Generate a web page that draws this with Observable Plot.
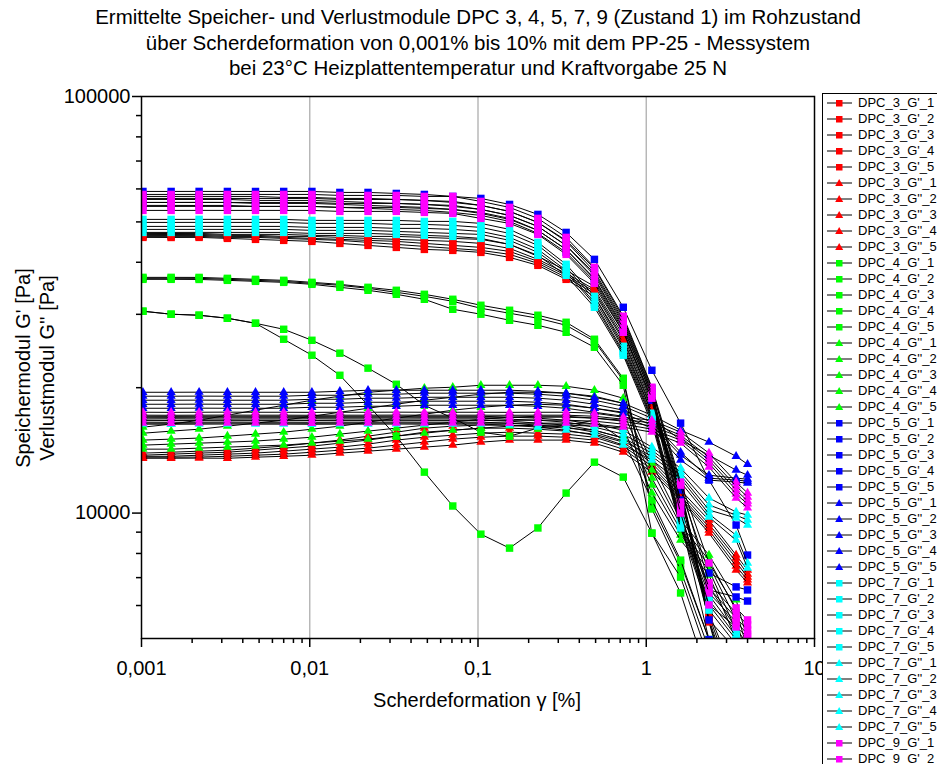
<!DOCTYPE html>
<html><head><meta charset="utf-8">
<script src="https://cdn.jsdelivr.net/npm/d3@7"></script>
<script src="https://cdn.jsdelivr.net/npm/@observablehq/plot@0.6"></script>
<style>
body{margin:0;width:937px;height:764px;overflow:hidden;position:relative;background:#fff;font-family:"Liberation Sans",Arial,sans-serif;color:#000;}
#title{position:absolute;left:0;top:4px;width:956px;text-align:center;font-size:20.5px;line-height:25.5px;z-index:2;}
#chart{position:absolute;left:0;top:80px;z-index:1;}
.ylab{position:absolute;width:300px;text-align:center;font-size:20px;line-height:22px;transform:rotate(-90deg);white-space:nowrap;z-index:2;}
#xlab{position:absolute;left:327px;width:300px;top:689px;text-align:center;font-size:20px;line-height:22px;white-space:nowrap;z-index:2;}
#legend{position:absolute;left:822px;top:93px;width:160px;border:1px solid #000;background:#fff;padding-top:1px;z-index:3;}
.row{position:relative;height:16px;}
.row svg{position:absolute;left:0;top:0;}
.row span{position:absolute;left:35px;top:0;font-size:13px;line-height:16px;white-space:nowrap;}
</style></head><body>
<div id="title">Ermittelte Speicher- und Verlustmodule DPC 3, 4, 5, 7, 9 (Zustand 1) im Rohzustand<br>über Scherdeformation von 0,001% bis 10% mit dem PP-25 - Messystem<br>bei 23°C Heizplattentemperatur und Kraftvorgabe 25 N</div>
<div id="chart"></div>
<div class="ylab" style="left:-127px;top:357px;">Speichermodul G' [Pa]</div>
<div class="ylab" style="left:-103px;top:357px;">Verlustmodul G'' [Pa]</div>
<div id="xlab">Scherdeformation γ [%]</div>
<div id="legend"></div>
<script>
// strain values (%)
const strain = [0.00102,0.0015,0.0022,0.00324,0.00476,0.007,0.0103,0.0151,0.0222,0.0327,0.048,0.0708,0.104,0.154,0.227,0.334,0.492,0.73,1.08,1.6,2.36,3.42,4.0];

// DPC 3 storage modulus G'
const dpc3_Gp_1 = [46920,46900,46920,46660,46680,46660,46410,46400,46150,46150,45900,45650,45400,44160,41330,38250,35020,27170,18450,11480,5750,3980,3560];
const dpc3_Gp_2 = [46660,46650,46660,46410,46410,46150,46150,45900,45650,45400,45150,44900,44400,43190,40650,37620,34440,26720,18150,11360,5660,3770,3370];
const dpc3_Gp_3 = [46410,46400,46410,46150,46150,45900,45650,45400,45150,44900,44400,43910,43430,42480,40210,37210,34070,26280,17850,11300,5560,3560,3190];
const dpc3_Gp_4 = [46150,46160,46150,45900,45900,45650,45400,45150,44650,44160,43670,43190,42720,41790,39770,36800,33690,25990,17660,11230,5510,3370,3010];
const dpc3_Gp_5 = [45900,45880,45900,45650,45400,45150,44900,44400,43910,43430,42950,42720,42250,41100,39330,36400,33140,25560,17370,11170,5480,3190,2850];
// DPC 3 loss modulus G''
const dpc3_Gpp_1 = [13930,14000,14080,14160,14320,14480,14720,14970,15300,15640,15990,16170,16260,16260,16170,15990,15810,15140,13400,11360,9620,7930,7300];
const dpc3_Gpp_2 = [13770,13850,13930,14000,14160,14320,14480,14720,14970,15300,15640,15810,15990,15990,15900,15730,15470,14800,13180,11170,9410,7800,7140];
const dpc3_Gpp_3 = [13690,13690,13770,13850,13930,14080,14240,14400,14640,14970,15210,15380,15550,15640,15550,15470,15210,14480,12960,10990,9260,7630,7020];
const dpc3_Gpp_4 = [13620,13620,13630,13690,13770,13850,14000,14160,14320,14560,14800,15050,15210,15300,15300,15210,14970,14240,12750,10870,9100,7460,6910];
const dpc3_Gpp_5 = [13540,13540,13550,13540,13620,13690,13770,13930,14080,14240,14400,14560,14800,14970,14970,14970,14720,14000,12540,10750,8950,7300,6800];

// DPC 4 storage modulus G'
const dpc4_Gp_1 = [36800,36800,36790,36600,36400,36200,35800,35410,34830,34260,33510,32600,31540,30680,29850,28710,26140,21070,10460,7590,4970,3770,3190];
const dpc4_Gp_2 = [36600,36610,36600,36400,36200,36000,35600,35220,34640,33880,33140,32240,31020,30180,29360,28240,25850,20840,10230,7300,4700,3560,3010];
const dpc4_Gp_3 = [36400,36400,36380,36200,36000,35800,35410,34830,34260,33510,32600,30850,30020,29030,28240,27170,25010,20270,8950,7020,4450,3370,2850];
const dpc4_Gp_4 = [30520,30020,29850,29360,28550,27620,25990,24200,22280,20380,18150,16900,15640,15300,15990,16260,16710,14970,10750,7710,4970,3560,3010];
const dpc4_Gp_5 = [30520,30020,29850,29360,28550,26140,23930,21420,18150,15300,12540,10400,8900,8240,9210,11170,13250,12200,8950,6430,3980,3190,2850];
// DPC 4 loss modulus G''
const dpc4_Gpp_1 = [16080,16350,16710,17180,17660,18150,18660,19080,19500,19720,19940,20050,20270,20270,20270,20160,19720,18870,13180,9620,7930,6190,4970];
const dpc4_Gpp_2 = [15550,15730,15900,16170,16440,16710,17080,17460,17850,18250,18660,18970,19290,19500,19500,19400,19080,18350,12680,9360,7710,5850,4700];
const dpc4_Gpp_3 = [14970,15050,15140,15300,15470,15640,15900,16170,16530,16900,17270,17660,17950,18150,18250,18150,17850,17460,12130,9100,7510,5540,4450];
const dpc4_Gpp_4 = [14560,14640,14720,14800,14890,15050,15210,15470,15730,15990,16260,16530,16800,16990,17080,17080,16900,16710,11670,8850,7300,5240,4200];
const dpc4_Gpp_5 = [14240,14240,14320,14400,14480,14560,14720,14890,15050,15300,15550,15810,15990,16170,16260,16260,16170,15990,11170,8610,7100,4970,3980];

// DPC 5 storage modulus G'
const dpc5_Gp_1 = [59170,59170,59180,59170,59160,59170,59170,58850,58850,58520,58200,57560,56930,55070,52120,47180,40650,31190,22020,16440,12000,9360,7930];
const dpc5_Gp_2 = [57560,57560,57570,57560,57560,57240,57240,56930,56930,56610,56300,55680,54770,52990,49860,45150,38670,29360,19940,11360,7180,6650,6540];
const dpc5_Gp_3 = [56610,56610,56600,56610,56300,56300,56300,55990,55680,55380,55070,54470,53570,51830,48770,43910,37620,28710,19500,10750,6540,6290,6150];
const dpc5_Gp_4 = [55680,55680,55690,55680,55380,55380,55380,55070,54770,54470,54170,53570,52690,50980,47710,42950,36600,28080,19080,10170,5540,4700,4450];
const dpc5_Gp_5 = [54770,54770,54760,54770,54470,54470,54470,54170,53870,53570,53280,52690,51830,50140,46920,42250,36000,27470,18660,9620,4970,3980,3560];
// DPC 5 loss modulus G''
const dpc5_Gpp_1 = [19500,19500,19510,19500,19500,19500,19500,19610,19720,19720,19720,19720,19720,19720,19610,19400,18970,18350,17180,15810,14800,13690,13100];
const dpc5_Gpp_2 = [19080,19080,19090,19080,19080,19080,19180,19180,19290,19290,19400,19400,19400,19400,19290,19080,18660,18050,16900,14970,13770,12680,12330];
const dpc5_Gpp_3 = [18660,18660,18670,18660,18660,18660,18760,18760,18870,18870,18970,18970,18970,18970,18870,18660,18250,17660,16530,14000,12130,12000,11930];
const dpc5_Gpp_4 = [18250,18250,18260,18250,18250,18250,18350,18350,18450,18450,18560,18560,18560,18560,18450,18250,17850,17370,16260,13770,12330,12130,12060];
const dpc5_Gpp_5 = [17850,17850,17860,17850,17850,17850,17950,17950,18050,18050,18150,18150,18150,18150,18050,17850,17460,17080,15990,13400,12000,11870,11800];

// DPC 7 storage modulus G'
const dpc7_Gp_1 = [50700,50700,50710,50700,50700,50700,50420,50420,50420,50420,50140,50140,49590,47970,44650,39550,33140,25140,17370,9620,6650,5290,4840];
const dpc7_Gp_2 = [49860,49860,49870,49860,49860,49860,49590,49590,49590,49310,49310,49040,48500,46920,43910,38900,32600,24870,17080,9510,6360,5190,4570];
const dpc7_Gp_3 = [48770,48770,48780,48770,48770,48770,48500,48500,48500,48240,48240,47970,47440,45900,42950,38250,32060,24460,16900,9410,6190,5060,4330];
const dpc7_Gp_4 = [47970,47970,47980,47970,47970,47970,47710,47710,47710,47440,47180,46920,46660,45150,42250,37830,31710,24200,16710,9310,6020,4970,4100];
const dpc7_Gp_5 = [47180,47180,47190,47180,47180,47180,46920,46920,46920,46660,46410,46150,45650,44160,41560,37210,31190,23930,16440,9210,5850,4840,3870];
// DPC 7 loss modulus G''
const dpc7_Gpp_1 = [17080,17070,17080,17090,17080,17080,17070,17080,17080,17090,17080,17080,17080,16990,16900,16710,16350,15810,14400,12820,10870,10060,9890];
const dpc7_Gpp_2 = [16900,16890,16900,16910,16900,16900,16890,16900,16900,16910,16900,16900,16900,16800,16710,16530,16080,15470,14160,12540,10460,9890,9620];
const dpc7_Gpp_3 = [16710,16700,16710,16720,16710,16710,16700,16710,16710,16720,16710,16710,16710,16620,16440,16260,15810,15140,13930,12330,10170,9730,9360];
const dpc7_Gpp_4 = [16530,16520,16530,16540,16530,16530,16520,16530,16530,16540,16530,16530,16530,16440,16260,16080,15640,14890,13690,12130,9950,8850,7590];
const dpc7_Gpp_5 = [16350,16340,16350,16360,16350,16350,16340,16350,16350,16360,16350,16350,16350,16260,16080,15810,15380,14560,13400,11870,9780,8610,7380];

// DPC 9 storage modulus G'
const dpc9_Gp_1 = [58200,58200,58210,58200,58200,58200,58200,57880,57880,57880,57560,57560,55990,54170,50980,45900,38900,29690,20050,11870,7590,5920,5540];
const dpc9_Gp_2 = [56930,56930,56940,56930,56930,56930,56930,56610,56610,56610,56300,55990,54770,52990,49860,44900,38040,29030,19720,11670,6800,5750,5390];
const dpc9_Gp_3 = [55680,55680,55690,55680,55680,55680,55680,55380,55380,55380,55070,54770,53570,51830,48770,43910,37210,28390,19400,10630,6610,5600,5240];
const dpc9_Gp_4 = [54470,54470,54480,54470,54470,54470,54470,54170,54170,54170,53870,53570,52400,50700,47710,42950,36400,27770,19180,10350,6430,5480,5120];
const dpc9_Gp_5 = [53280,53280,53290,53280,53280,53280,53280,52990,52990,52990,52690,52400,50980,49590,46660,41790,35600,27170,18870,10000,6020,5330,5040];
// DPC 9 loss modulus G''
const dpc9_Gpp_1 = [17460,17450,17460,17470,17460,17460,17450,17460,17460,17470,17460,17460,17460,17450,17460,17460,17370,16990,16710,15640,13930,11870,11170];
const dpc9_Gpp_2 = [17180,17170,17180,17190,17180,17180,17170,17180,17180,17190,17180,17180,17180,17170,17180,17180,17080,16800,16440,15380,13620,11610,10930];
const dpc9_Gpp_3 = [16990,16980,16990,17000,16990,16990,16980,16990,16990,17000,16990,16990,16990,16980,16990,16990,16900,16620,16170,15210,13400,11360,10690];
const dpc9_Gpp_4 = [16710,16700,16710,16720,16710,16710,16700,16710,16710,16720,16710,16710,16710,16700,16710,16710,16620,16350,15900,14970,13180,11110,10520];
const dpc9_Gpp_5 = [16440,16430,16440,16450,16440,16440,16430,16440,16440,16450,16440,16440,16440,16430,16440,16440,16350,16080,15640,14720,12890,10870,10290];

// axis ticks and labels
const xMajor = [0.001,0.01,0.1,1,10];
const xMajorLabels = ["0,001","0,01","0,1","1","10"];
const xMinor = [0.002,0.003,0.004,0.005,0.006,0.007,0.008,0.009,0.02,0.03,0.04,0.05,0.06,0.07,0.08,0.09,0.2,0.3,0.4,0.5,0.6,0.7,0.8,0.9,2,3,4,5,6,7,8,9];
const xGrid = [0.01,0.1,1];
const yMajor = [10000,100000];
const yMajorLabels = ["10000","100000"];
const yMinor = [6000,7000,8000,9000,20000,30000,40000,50000,60000,70000,80000,90000];

const samples = ["3","4","5","7","9"];
const moduli = [["G'","Gp","square"],["G''","Gpp","triangle"]];
const palette = {"3":"#ff0000","4":"#00ff00","5":"#0000ff","7":"#00ffff","9":"#ff00ff"};
const dataByKey = {
  dpc3_Gp_1,dpc3_Gp_2,dpc3_Gp_3,dpc3_Gp_4,dpc3_Gp_5,dpc3_Gpp_1,dpc3_Gpp_2,dpc3_Gpp_3,dpc3_Gpp_4,dpc3_Gpp_5,
  dpc4_Gp_1,dpc4_Gp_2,dpc4_Gp_3,dpc4_Gp_4,dpc4_Gp_5,dpc4_Gpp_1,dpc4_Gpp_2,dpc4_Gpp_3,dpc4_Gpp_4,dpc4_Gpp_5,
  dpc5_Gp_1,dpc5_Gp_2,dpc5_Gp_3,dpc5_Gp_4,dpc5_Gp_5,dpc5_Gpp_1,dpc5_Gpp_2,dpc5_Gpp_3,dpc5_Gpp_4,dpc5_Gpp_5,
  dpc7_Gp_1,dpc7_Gp_2,dpc7_Gp_3,dpc7_Gp_4,dpc7_Gp_5,dpc7_Gpp_1,dpc7_Gpp_2,dpc7_Gpp_3,dpc7_Gpp_4,dpc7_Gpp_5,
  dpc9_Gp_1,dpc9_Gp_2,dpc9_Gp_3,dpc9_Gp_4,dpc9_Gp_5,dpc9_Gpp_1,dpc9_Gpp_2,dpc9_Gpp_3,dpc9_Gpp_4,dpc9_Gpp_5
};

const series = [];
for (const s of samples) for (const [mod, key, sym] of moduli) for (let k = 1; k <= 5; k++) {
  const values = dataByKey[`dpc${s}_${key}_${k}`];
  series.push({name:`DPC_${s}_${mod}_${k}`, color:palette[s], symbol:sym,
    rows: strain.map((x,i)=>({x, y: values[i]}))});
}

const xLabelOf = new Map(xMajor.map((d,i)=>[d, xMajorLabels[i]]));
const yLabelOf = new Map(yMajor.map((d,i)=>[d, yMajorLabels[i]]));

const chart = Plot.plot({
  width: 822, height: 640,
  marginLeft: 141, marginRight: 8, marginTop: 16, marginBottom: 82,
  style: {fontFamily: '"Liberation Sans", Arial, sans-serif', fontSize: "20px", color: "#000", background: "#fff"},
  x: {type: "log", domain: [0.001, 10], label: null},
  y: {type: "log", domain: [5000, 100000], label: null},
  marks: [
    Plot.ruleX(xGrid, {stroke: "#b4b4b4", strokeWidth: 1.4}),
    ...series.flatMap(s => [
      Plot.line(s.rows, {x: "x", y: "y", stroke: "#000", strokeWidth: 1, clip: true}),
      Plot.dot(s.rows, {x: "x", y: "y", symbol: s.symbol, fill: s.color, stroke: "none",
        r: s.symbol === "square" ? 4.2 : 3.4, clip: true})
    ]),
    Plot.frame({stroke: "#000", strokeWidth: 1.5}),
    Plot.axisX({ticks: xMajor, tickFormat: d => xLabelOf.get(d), tickSize: 9, tickPadding: 13, strokeWidth: 1.5, fontSize: 20}),
    Plot.axisX({ticks: xMinor, tickFormat: () => "", tickSize: 5, strokeWidth: 1.5}),
    Plot.axisY({ticks: yMajor, tickFormat: d => yLabelOf.get(d), tickSize: 9, tickPadding: 2, strokeWidth: 1.5, fontSize: 20}),
    Plot.axisY({ticks: yMinor, tickFormat: () => "", tickSize: 5, strokeWidth: 1.5})
  ]
});
document.getElementById("chart").appendChild(chart);

// legend
const legend = document.getElementById("legend");
for (const s of series) {
  const row = document.createElement("div");
  row.className = "row";
  const marker = s.symbol === "square"
    ? `<rect x="13" y="5" width="6.5" height="6.5" fill="${s.color}"/>`
    : `<path d="M16.2,4 L20.2,11 L12.2,11 Z" fill="${s.color}"/>`;
  row.innerHTML = `<svg width="34" height="16"><line x1="4" x2="29" y1="8" y2="8" stroke="#000" stroke-width="1"/>${marker}</svg><span>${s.name}</span>`;
  legend.appendChild(row);
}
</script>
</body></html>
